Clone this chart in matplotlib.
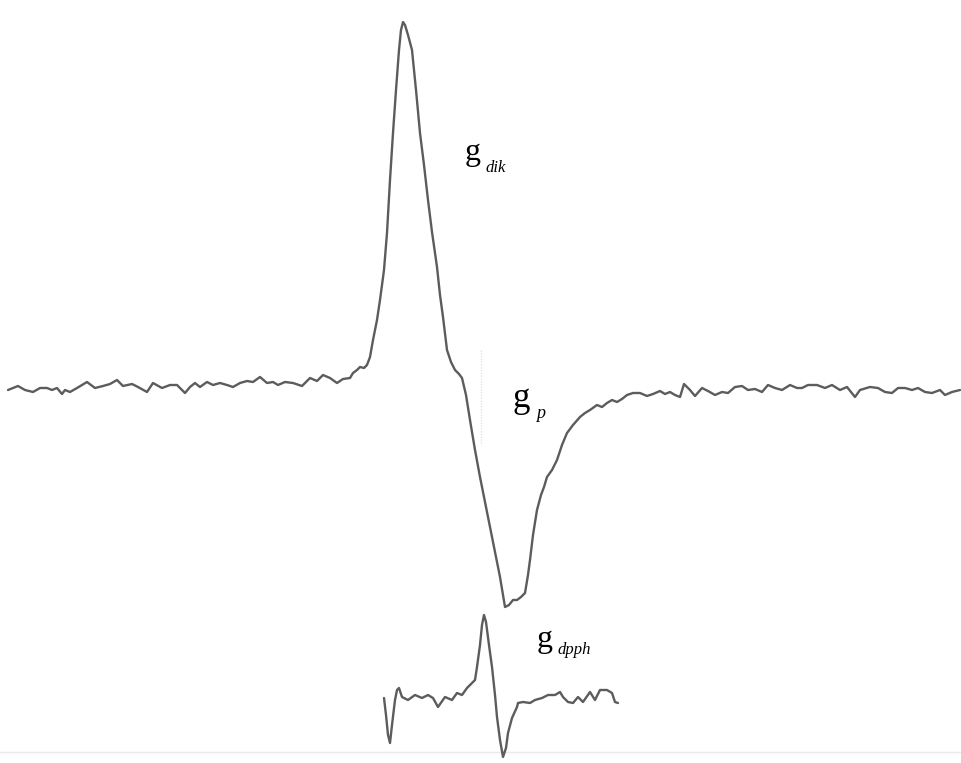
import matplotlib
matplotlib.use("Agg")
import matplotlib.pyplot as plt

# EPR recorder traces: (field position, signal amplitude) pairs
main_trace = [
    (8, -1), (18, 3), (25, -1), (33, -3), (40, 1), (47, 1), (52, -1), (57, 1),
    (62, -5), (65, -1), (70, -3), (77, 1), (87, 7), (95, 1), (103, 3), (110, 5),
    (117, 9), (123, 3), (132, 5), (138, 2), (147, -3), (153, 6), (162, 1), (170, 4),
    (177, 4), (185, -4), (190, 2), (195, 6), (200, 2), (207, 7), (213, 4), (220, 6),
    (227, 4), (233, 2), (240, 6), (247, 8), (253, 7), (260, 12), (267, 6), (273, 7),
    (278, 4), (285, 7), (293, 6), (302, 3), (310, 11), (317, 8), (323, 14), (330, 11),
    (337, 6), (343, 10), (350, 11), (353, 16), (357, 19), (360, 22), (364, 21), (367, 24),
    (370, 32), (373, 49), (377, 69), (380, 89), (384, 119), (387, 156), (390, 209),
    (393, 256), (396, 299), (399, 339), (401, 359), (403, 367), (405, 364), (408, 354),
    (412, 339), (416, 299), (420, 256), (424, 224), (428, 189), (432, 157), (437, 122),
    (440, 94), (443, 72), (447, 39), (451, 27), (455, 19), (459, 15), (462, 11),
    (466, -6), (470, -31), (475, -61), (480, -88), (485, -113), (490, -138), (495, -163),
    (500, -188), (503, -206), (505, -218), (509, -216), (513, -211), (517, -211),
    (521, -208), (525, -204), (528, -186), (530, -171), (533, -146), (537, -121),
    (541, -106), (544, -98), (547, -88), (552, -81), (557, -71), (562, -56), (567, -44),
    (573, -36), (580, -28), (585, -24), (590, -21), (597, -16), (602, -18), (607, -14),
    (612, -11), (617, -13), (622, -10), (627, -6), (633, -4), (640, -4), (647, -7),
    (653, -5), (660, -2), (665, -5), (670, -3), (675, -6), (680, -8), (684, 5), (690, -1),
    (695, -7), (702, 1), (708, -2), (715, -6), (722, -3), (728, -4), (735, 2), (742, 3),
    (748, -1), (755, 0), (762, -3), (768, 4), (775, 1), (782, -1), (790, 4), (797, 1),
    (802, 1), (808, 4), (817, 4), (825, 1), (832, 4), (840, -1), (847, 2), (855, -8),
    (860, -1), (870, 2), (878, 1), (885, -3), (892, -4), (898, 1), (905, 1), (912, -1),
    (918, 1), (925, -3), (932, -4), (940, -1), (945, -6), (952, -3), (960, -1),
]

dpph_trace = [
    (384, -1), (386, -18), (388, -38), (390, -46), (392, -28), (395, -3), (397, 7),
    (399, 9), (402, 0), (408, -3), (415, 2), (422, -1), (428, 2), (433, -1), (438, -10),
    (445, 0), (452, -3), (457, 4), (462, 2), (467, 9), (470, 12), (475, 17), (477, 30),
    (480, 52), (482, 72), (484, 82), (486, 75), (489, 52), (492, 30), (495, 2),
    (497, -20), (500, -43), (503, -60), (506, -51), (508, -36), (512, -21), (517, -10),
    (518, -6), (523, -5), (530, -6), (535, -3), (542, -1), (548, 2), (555, 2), (560, 5),
    (563, 0), (568, -5), (573, -6), (578, 0), (583, -5), (590, 5), (595, -3), (600, 7),
    (607, 7), (612, 4), (615, -5), (618, -6),
]

labels = [("g", "dik"), ("g", "p"), ("g", "dpph")]

DPPH_OFFSET = -308
LINE_COLOR = "#5c5c5c"

fig = plt.figure(figsize=(9.61, 7.63), dpi=100)
ax = fig.add_axes([0, 0, 1, 1])
ax.set_xlim(0, 961)
ax.set_ylim(-374, 389)
ax.axis("off")

mx, my = zip(*main_trace)
ax.plot(mx, my, color=LINE_COLOR, lw=1.7, solid_joinstyle="round", solid_capstyle="round")

dx, dy = zip(*dpph_trace)
ax.plot(dx, [v + DPPH_OFFSET for v in dy], color=LINE_COLOR, lw=1.7,
        solid_joinstyle="round", solid_capstyle="round")

# faint recorder guide lines
ax.plot([0, 961], [-363, -363], color="#e9e9e9", lw=1.0, zorder=0)
ax.plot([481, 481], [39, -56], color="#e4e4e4", lw=1.0, ls=(0, (1, 1)), zorder=0)

# g-factor labels
label_pos = [(465, 229, 486, 217, 23, 12),
             (512, -18, 536, -29, 25, 13),
             (537, -258, 557, -265, 23, 12)]
for (main, sub), (gx, gy, sx, sy, gs, ss) in zip(labels, label_pos):
    ax.text(gx, gy, main, family="Liberation Serif", fontsize=gs, va="baseline",
            ha="left", color="black")
    ax.text(sx, sy, sub, family="Liberation Serif", style="italic", fontsize=ss,
            va="baseline", ha="left", color="black")

fig.savefig("out.png", dpi=100, facecolor="white")
